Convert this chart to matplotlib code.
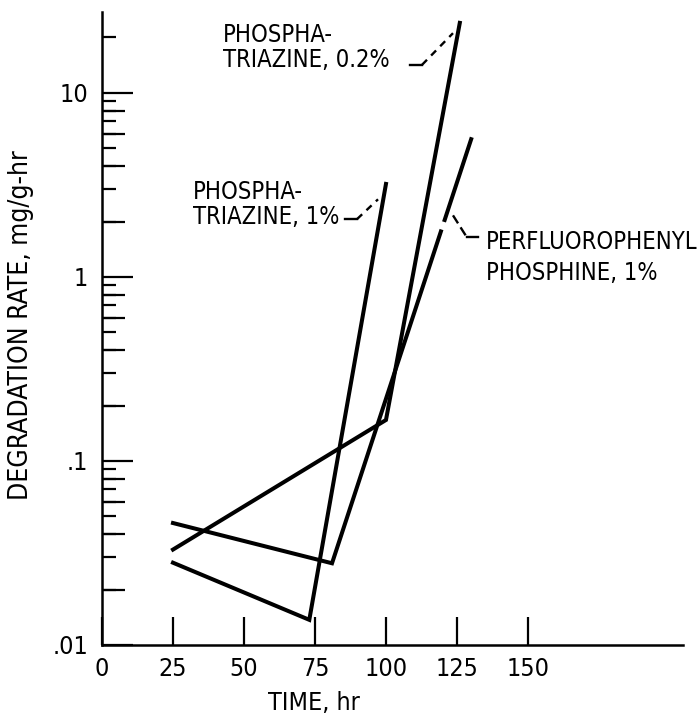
import matplotlib
matplotlib.use('Agg')
import numpy as np
import matplotlib.pyplot as plt
import matplotlib.transforms as mtransforms
from matplotlib.ticker import LogLocator, NullFormatter, FixedLocator, FixedFormatter
from matplotlib import font_manager

# condensed face if one is available
names = {f.name for f in font_manager.fontManager.ttflist}
narrow = [n for n in ['Liberation Sans Narrow', 'DejaVu Sans Condensed'] if n in names]
plt.rcParams['font.family'] = narrow + ['DejaVu Sans']
plt.rcParams['font.stretch'] = 'condensed'

# data (time in hr, degradation rate in mg/g-hr)
time_triazine_1 = [25, 73, 100]
rate_triazine_1 = [0.028, 0.0137, 3.2]

time_triazine_02 = [25, 100, 126]
rate_triazine_02 = [0.033, 0.167, 24.0]

time_perfluoro = [25, 81, 130]
rate_perfluoro = [0.046, 0.0278, 5.6]

x_ticks = [0, 25, 50, 75, 100, 125, 150]
y_major = [0.01, 0.1, 1, 10]
y_major_labels = ['.01', '.1', '1', '10']

W, H = 699, 715
fig = plt.figure(figsize=(W / 100, H / 100), dpi=100)
ax = fig.add_axes([102 / W, (H - 645) / H, 581 / W, (645 - 12) / H])

lw = 2.9
for t, r in [(time_triazine_1, rate_triazine_1),
             (time_triazine_02, rate_triazine_02),
             (time_perfluoro, rate_perfluoro)]:
    ax.plot(t, r, color='black', lw=lw, solid_joinstyle='miter')

# small break in the perfluorophenyl curve where its leader starts
f = np.array([0.787, 0.805])
gx = time_perfluoro[1] + f * (time_perfluoro[2] - time_perfluoro[1])
gy = 10 ** (np.log10(rate_perfluoro[1]) + f * (np.log10(rate_perfluoro[2]) - np.log10(rate_perfluoro[1])))
ax.plot(gx, gy, color='white', lw=lw + 2, solid_capstyle='butt')

ax.set_yscale('log')
ax.set_xlim(0, 204.6)
ax.set_ylim(0.01, 27.5)

for s in ['top', 'right']:
    ax.spines[s].set_visible(False)
for s in ['left', 'bottom']:
    ax.spines[s].set_linewidth(1.8)

ax.xaxis.set_major_locator(FixedLocator(x_ticks))
ax.set_xticklabels([str(v) for v in x_ticks])
ax.tick_params(axis='x', direction='in', length=20, width=1.6, pad=9, labelsize=18)

ax.yaxis.set_major_locator(FixedLocator(y_major))
ax.yaxis.set_major_formatter(FixedFormatter(y_major_labels))
ax.yaxis.set_minor_locator(LogLocator(base=10, subs=range(2, 10)))
ax.yaxis.set_minor_formatter(NullFormatter())
ax.tick_params(axis='y', which='major', direction='in', length=22, width=1.6, pad=10, labelsize=18)
ax.tick_params(axis='y', which='minor', direction='in', length=10, width=1.6)

# even sub-ticks are drawn a bit longer than the odd ones
trans = mtransforms.blended_transform_factory(ax.transAxes, ax.transData)
for dec in [0.01, 0.1, 1]:
    for sub in [2, 4, 6, 8]:
        ax.plot([0, 23 / 581], [dec * sub, dec * sub], color='black', lw=1.6,
                transform=trans, clip_on=False, solid_capstyle='butt')

# curve labels with leader lines
txt = dict(fontsize=17, color='black', va='baseline', ha='left')
fig.text(223 / W, 1 - 42 / H, 'PHOSPHA-', **txt)
fig.text(223 / W, 1 - 67 / H, 'TRIAZINE, 0.2%', **txt)
fig.text(193 / W, 1 - 199 / H, 'PHOSPHA-', **txt)
fig.text(193 / W, 1 - 224 / H, 'TRIAZINE, 1%', **txt)
fig.text(486 / W, 1 - 249 / H, 'PERFLUOROPHENYL', **txt)
fig.text(486 / W, 1 - 280 / H, 'PHOSPHINE, 1%', **txt)

ld = 1.7
ax.plot([108.5, 112.7], [14.2, 14.2], color='black', lw=ld)
ax.plot([112.7, 123.6], [14.2, 21.1], color='black', lw=ld, dashes=(3, 2.5))
ax.plot([85.6, 89.8], [2.06, 2.06], color='black', lw=ld)
ax.plot([89.8, 97.2], [2.06, 2.64], color='black', lw=ld, dashes=(3, 2.5))
ax.plot([123.6, 128.5], [2.16, 1.64], color='black', lw=ld, dashes=(4, 2))
ax.plot([128.5, 132.4], [1.64, 1.64], color='black', lw=ld)

fig.text(314 / W, 1 - 710 / H, 'TIME, hr', fontsize=18, ha='center', va='baseline')
fig.text(21 / W, 1 - 325 / H, 'DEGRADATION RATE, mg/g-hr', fontsize=19,
         rotation=90, ha='center', va='center')

fig.savefig('out.png', dpi=100, facecolor='white')
